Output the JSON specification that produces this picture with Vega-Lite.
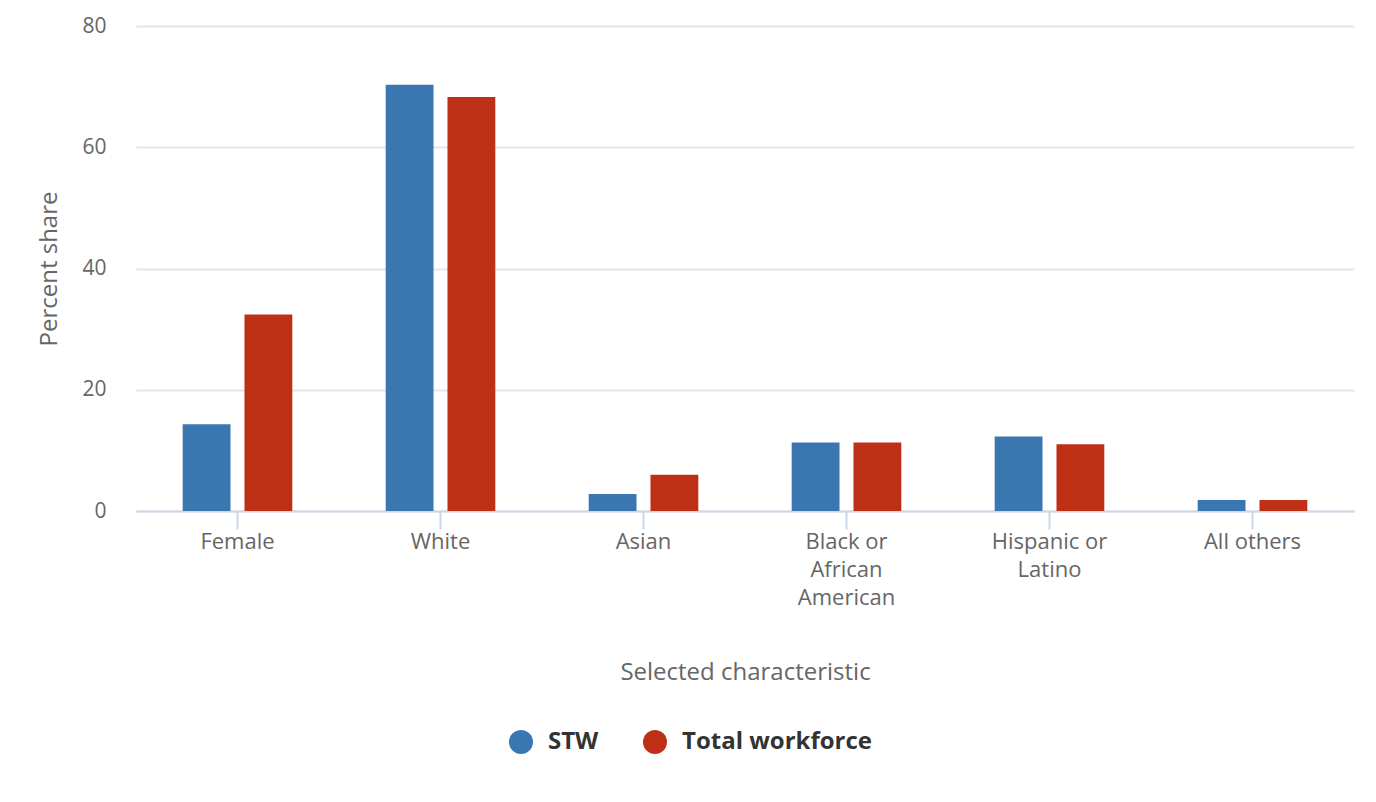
{
  "$schema": "https://vega.github.io/schema/vega-lite/v6.json",
  "width": 1218,
  "height": 485,
  "autosize": {"type": "none"},
  "padding": {"left": 136, "top": 26, "right": 22, "bottom": 291},
  "background": "#ffffff",
  "config": {
    "font": "Open Sans",
    "view": {"stroke": null},
    "axis": {"labelFont": "Open Sans", "titleFont": "Open Sans"},
    "legend": {"labelFont": "Open Sans"}
  },
  "data": {
    "values": [
      {"category": "Female", "series": "STW", "value": 14.3},
      {"category": "Female", "series": "Total workforce", "value": 32.4},
      {"category": "White", "series": "STW", "value": 70.3},
      {"category": "White", "series": "Total workforce", "value": 68.3},
      {"category": "Asian", "series": "STW", "value": 2.8},
      {"category": "Asian", "series": "Total workforce", "value": 6.0},
      {"category": "Black or African American", "series": "STW", "value": 11.3},
      {"category": "Black or African American", "series": "Total workforce", "value": 11.3},
      {"category": "Hispanic or Latino", "series": "STW", "value": 12.3},
      {"category": "Hispanic or Latino", "series": "Total workforce", "value": 11.0},
      {"category": "All others", "series": "STW", "value": 1.8},
      {"category": "All others", "series": "Total workforce", "value": 1.8}
    ]
  },
  "mark": {"type": "bar"},
  "encoding": {
    "x": {
      "field": "category",
      "type": "nominal",
      "sort": null,
      "scale": {"paddingInner": 0.46, "paddingOuter": 0.23},
      "axis": {
        "title": "Selected characteristic",
        "titleFontSize": 24,
        "titleFontWeight": "normal",
        "titleColor": "#666666",
        "titlePadding": 52,
        "labelAngle": 0,
        "labelFontSize": 22,
        "labelColor": "#666666",
        "labelPadding": 2,
        "labelLineHeight": 28,
        "labelExpr": "datum.value == 'Black or African American' ? ['Black or', 'African', 'American'] : datum.value == 'Hispanic or Latino' ? ['Hispanic or', 'Latino'] : datum.value",
        "domainColor": "#ccd6eb",
        "domainWidth": 2,
        "tickColor": "#ccd6eb",
        "tickWidth": 2,
        "tickSize": 18,
        "grid": false
      }
    },
    "xOffset": {
      "field": "series",
      "type": "nominal",
      "scale": {"paddingInner": 0.226, "paddingOuter": 0}
    },
    "y": {
      "field": "value",
      "type": "quantitative",
      "scale": {"domain": [0, 80]},
      "axis": {
        "title": "Percent share",
        "titleFontSize": 24,
        "titleFontWeight": "normal",
        "titleColor": "#666666",
        "titlePadding": 20,
        "values": [0, 20, 40, 60, 80],
        "labelFontSize": 21,
        "labelColor": "#666666",
        "labelPadding": 30,
        "domain": false,
        "ticks": false,
        "gridColor": "#e6e6e6",
        "gridWidth": 2
      }
    },
    "color": {
      "field": "series",
      "type": "nominal",
      "scale": {"domain": ["STW", "Total workforce"], "range": ["#3a77b1", "#be3016"]},
      "legend": {
        "title": null,
        "orient": "none",
        "legendX": 373,
        "legendY": 704,
        "direction": "horizontal",
        "symbolType": "circle",
        "symbolSize": 576,
        "symbolStrokeWidth": 0,
        "symbolOpacity": 1,
        "labelFontSize": 24,
        "labelFontWeight": "bold",
        "labelColor": "#333333",
        "labelOffset": 15,
        "labelLimit": 400,
        "columnPadding": 44
      }
    }
  }
}
